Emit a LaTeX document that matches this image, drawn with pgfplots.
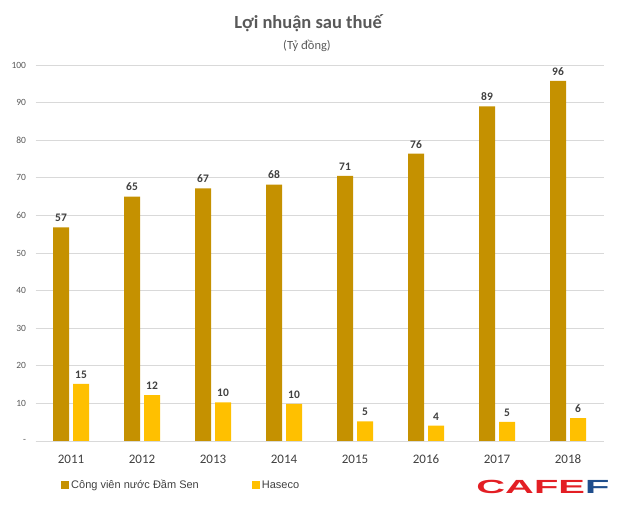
\documentclass[border=0pt]{standalone}
\usepackage{pgfplots}
\pgfplotsset{compat=1.18}
\usepackage{fontspec}
\setmainfont{Carlito}
\newfontfamily\arialf{Liberation Sans}
\definecolor{damsen}{HTML}{C59100}
\definecolor{haseco}{HTML}{FFC000}
\definecolor{txtgray}{HTML}{595959}
\definecolor{lblgray}{HTML}{404040}
\definecolor{gridgray}{HTML}{D9D9D9}
\definecolor{cafered}{HTML}{E31E24}
\definecolor{cafeblue}{HTML}{1F4E8C}
\begin{document}
\begin{tikzpicture}[x=1pt,y=1pt]
\path[use as bounding box] (0,0) rectangle (618,504);
\begin{axis}[
  at={(35.5pt,63pt)}, anchor=south west,
  scale only axis, width=568pt, height=376pt,
  ymin=0, ymax=100, xmin=-0.5, xmax=7.5,
  ybar, bar width=16pt,
  ytick={0,10,...,100},
  yticklabels={-,10,20,30,40,50,60,70,80,90,100},
  xtick={0,...,7},
  xticklabels={2011,2012,2013,2014,2015,2016,2017,2018},
  ymajorgrids, grid style={gridgray, line width=0.8pt},
  axis line style={draw=none},
  major tick style={draw=none},
  axis x line*=bottom,
  y tick label style={font=\fontsize{9.5}{10}\selectfont, text=txtgray, xshift=-6pt},
  x tick label style={font=\fontsize{13}{15}\selectfont, text=lblgray, yshift=-6pt},
  nodes near coords,
  nodes near coords style={font=\bfseries\fontsize{11.5}{13}\selectfont, text=lblgray, yshift=2pt},
  point meta=explicit symbolic,
  legend style={at={(0.0396,-0.117)}, anchor=west, draw=none, fill=none,
    font=\arialf\fontsize{11}{13}\selectfont, text=lblgray,
    legend cell align=left, /tikz/every even column/.append style={column sep=51pt}},
  legend columns=2,
  legend image code/.code={\fill[#1] (0pt,-4pt) rectangle (8pt,4pt);},
]
\addplot[fill=damsen, draw=none, bar shift=-10pt] coordinates {
 (0,56.8) [57] (1,65) [65] (2,67.2) [67] (3,68.2) [68] (4,70.5) [71] (5,76.4) [76] (6,89) [89] (7,95.8) [96]};
\addplot[fill=haseco, draw=none, bar shift=10pt] coordinates {
 (0,15.2) [15] (1,12.2) [12] (2,10.3) [10] (3,9.9) [10] (4,5.2) [5] (5,4.1) [4] (6,5.1) [5] (7,6.1) [6]};
\legend{Công viên nước Đầm Sen, Haseco}
\draw[gridgray, line width=0.8pt] (rel axis cs:0,0) -- (rel axis cs:1,0);
\end{axis}
\node[font=\bfseries\fontsize{18.5}{20}\selectfont, text=txtgray] at (308,481) {Lợi nhuận sau thuế};
\node[font=\fontsize{12.5}{14}\selectfont, text=txtgray] at (307,458) {(Tỷ đồng)};
\node[anchor=west, xscale=2.1, inner sep=0pt, font=\arialf\bfseries\fontsize{19}{20}\selectfont] at (476,17) {\textcolor{cafered}{CAFE}\textcolor{cafeblue}{F}};
\end{tikzpicture}
\end{document}
